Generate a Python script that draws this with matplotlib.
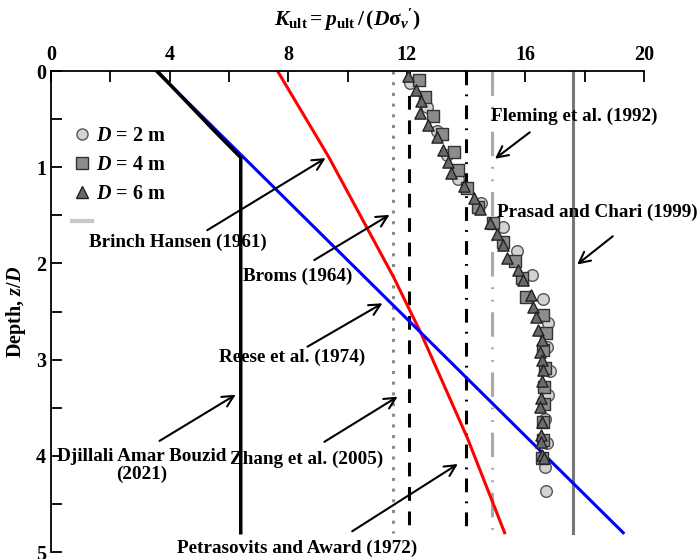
import matplotlib
matplotlib.use("Agg")
import matplotlib.pyplot as plt
from matplotlib.lines import Line2D
import numpy as np

plt.rcParams['font.family'] = 'Liberation Serif'
plt.rcParams['font.weight'] = 'bold'
plt.rcParams['axes.labelweight'] = 'bold'
plt.rcParams['mathtext.fontset'] = 'custom'
plt.rcParams['mathtext.rm'] = 'Liberation Serif:bold'
plt.rcParams['mathtext.it'] = 'Liberation Serif:bold:italic'
plt.rcParams['mathtext.bf'] = 'Liberation Serif:bold'

z_d2 = [0.12, 0.37, 0.62, 0.87, 1.12, 1.37, 1.62, 1.87, 2.12, 2.37, 2.62, 2.87,
        3.12, 3.37, 3.62, 3.87, 4.12, 4.37]
k_d2 = [12.11, 12.68, 13.02, 13.35, 13.73, 14.5, 15.24, 15.72, 16.22, 16.59, 16.76, 16.73,
        16.83, 16.76, 16.66, 16.73, 16.66, 16.7]

z_d4 = [0.09, 0.27, 0.47, 0.65, 0.84, 1.03, 1.22, 1.41, 1.58, 1.78, 1.98, 2.15,
        2.35, 2.54, 2.72, 2.9, 3.09, 3.28, 3.46, 3.65, 3.84, 4.02]
k_d4 = [12.41, 12.61, 12.88, 13.19, 13.59, 13.73, 14.03, 14.4, 14.91, 15.24, 15.65, 15.89,
        16.02, 16.59, 16.69, 16.59, 16.66, 16.63, 16.63, 16.59, 16.59, 16.56]

z_d6 = [0.05, 0.2, 0.31, 0.44, 0.56, 0.69, 0.82, 0.95, 1.06, 1.2, 1.32, 1.43,
        1.58, 1.69, 1.81, 1.94, 2.07, 2.17, 2.33, 2.45, 2.56, 2.69, 2.8, 2.92,
        3.0, 3.11, 3.22, 3.4, 3.49, 3.65, 3.78, 3.86, 3.99, 4.02]
k_d6 = [12.04, 12.31, 12.48, 12.45, 12.71, 13.02, 13.22, 13.39, 13.49, 13.93, 14.27, 14.47,
        14.81, 15.04, 15.24, 15.38, 15.75, 15.92, 16.19, 16.26, 16.36, 16.43, 16.56, 16.5,
        16.56, 16.59, 16.56, 16.53, 16.5, 16.56, 16.53, 16.53, 16.56, 16.62]

# ---- theoretical curves ----
bouzid_k = [3.58, 5.47, 6.4, 6.4]
bouzid_z = [0.0, 0.61, 0.9, 4.8]
reese_k = [3.55, 19.3]
reese_z = [0.0, 4.8]
hansen_k = [7.64, 9.36, 11.55, 12.47, 14.05, 15.3]
hansen_z = [0.0, 0.89, 2.14, 2.72, 3.82, 4.8]

broms_k = 11.55
zhang_k = 12.06
petras_k = 14.0
fleming_k = 14.86
prasad_k = 17.6
z_end = 4.8

fig = plt.figure(figsize=(7, 5.59), dpi=100)
ax = fig.add_axes([51/700, 1-552/559, 593/700, 481/559])

lw = 2.2
ax.plot([broms_k, broms_k], [0, z_end], color='#8a8a8a', lw=lw, linestyle=(0, (1, 2.5)))
ax.plot([zhang_k, zhang_k], [0, z_end], color='black', lw=lw, linestyle=(0, (4.5, 3.5)))
ax.plot([petras_k, petras_k], [0, z_end], color='black', lw=lw, linestyle=(0, (4.5, 3, 0.6, 3)))
ax.plot([fleming_k, fleming_k], [0, z_end], color='#aaaaaa', lw=lw,
        linestyle=(0, (8, 3.5, 0.6, 3.5, 0.6, 3.5)))
ax.plot([prasad_k, prasad_k], [0, z_end], color='#777777', lw=lw)

ax.plot(hansen_k, hansen_z, color='red', lw=lw)
ax.plot(reese_k, reese_z, color='blue', lw=lw)
ax.plot(bouzid_k, bouzid_z, color='black', lw=2.5)

ax.scatter(k_d2, z_d2, s=70, marker='o', facecolor='#d3d3d3', edgecolor='#555555', lw=1, zorder=3)
ax.scatter(k_d4, z_d4, s=75, marker='s', facecolor='#8c8c8c', edgecolor='#333333', lw=1, zorder=4)
ax.scatter(k_d6, z_d6, s=65, marker='^', facecolor='#6a6a6a', edgecolor='#222222', lw=1, zorder=5)

# annotations
fs = 13.8
arrow = dict(arrowstyle='->', color='black', lw=1.5, mutation_scale=20)
notes = [
    ("Brinch Hansen (1961)", (4.28, 1.78), (5.19, 1.67), (9.34, 0.89)),
    ("Broms (1964)", (8.33, 2.13), (8.8, 1.98), (11.5, 1.48)),
    ("Reese et al. (1974)", (8.13, 2.98), (8.57, 2.88), (11.26, 2.4)),
    ("Djillali Amar Bouzid\n(2021)", (3.05, 4.1), (3.58, 3.86), (6.31, 3.35)),
    ("Zhang et al. (2005)", (8.63, 4.04), (9.14, 3.87), (11.77, 3.37)),
    ("Petrasovits and Award (1972)", (8.3, 4.96), (10.08, 4.8), (13.8, 4.07)),
    ("Fleming et al. (1992)", (17.64, 0.47), (16.22, 0.62), (14.9, 0.93)),
    ("Prasad and Chari (1999)", (18.42, 1.47), (19.02, 1.7), (17.67, 2.03)),
]
for txt, pos, tail, head in notes:
    ax.text(pos[0], pos[1], txt, fontsize=fs, ha='center', va='center',
            linespacing=1.0, clip_on=False, zorder=6)
    ax.annotate('', xy=head, xytext=tail, arrowprops=arrow, zorder=6)

ax.set_xlim(0, 20)
ax.set_ylim(5, 0)
ax.xaxis.tick_top()
ax.xaxis.set_label_position('top')
ax.set_xticks([0, 4, 8, 12, 16, 20])
ax.set_xticks([2, 6, 10, 14, 18], minor=True)
ax.set_yticks([0, 1, 2, 3, 4, 5])
ax.set_yticks([0.5, 1.5, 2.5, 3.5, 4.5], minor=True)
ax.tick_params(which='both', direction='in', length=8, width=1.3, labelsize=14.5)
ax.tick_params(axis='x', which='both', top=True, bottom=False, pad=4)
ax.spines['bottom'].set_visible(False)
ax.spines['right'].set_visible(False)
ax.spines['top'].set_linewidth(1.3)
ax.spines['left'].set_linewidth(1.3)
ax.set_xlabel(r"$K_{\mathrm{ult}} = p_{\mathrm{ult}}\,/\,(D\mathrm{\sigma}_v{'})$", fontsize=15.5, labelpad=14)
ax.set_ylabel(r"Depth, $z/D$", fontsize=14.5, fontweight='bold', labelpad=6)

handles = [
    Line2D([], [], ls='none', marker='o', ms=8, mfc='#d3d3d3', mec='#555555'),
    Line2D([], [], ls='none', marker='s', ms=8, mfc='#8c8c8c', mec='#333333'),
    Line2D([], [], ls='none', marker='^', ms=8, mfc='#6a6a6a', mec='#222222'),
    Line2D([], [], color='#c8c8c8', lw=3),
]
labels = [r"$D$ = 2 m", r"$D$ = 4 m", r"$D$ = 6 m", " "]
ax.legend(handles, labels, loc='upper left', bbox_to_anchor=(0.012, 0.915), frameon=False,
          fontsize=14.5, handlelength=1.0, handletextpad=0.2, labelspacing=0.45,
          borderaxespad=0.3)

fig.savefig('out.png', dpi=100)
